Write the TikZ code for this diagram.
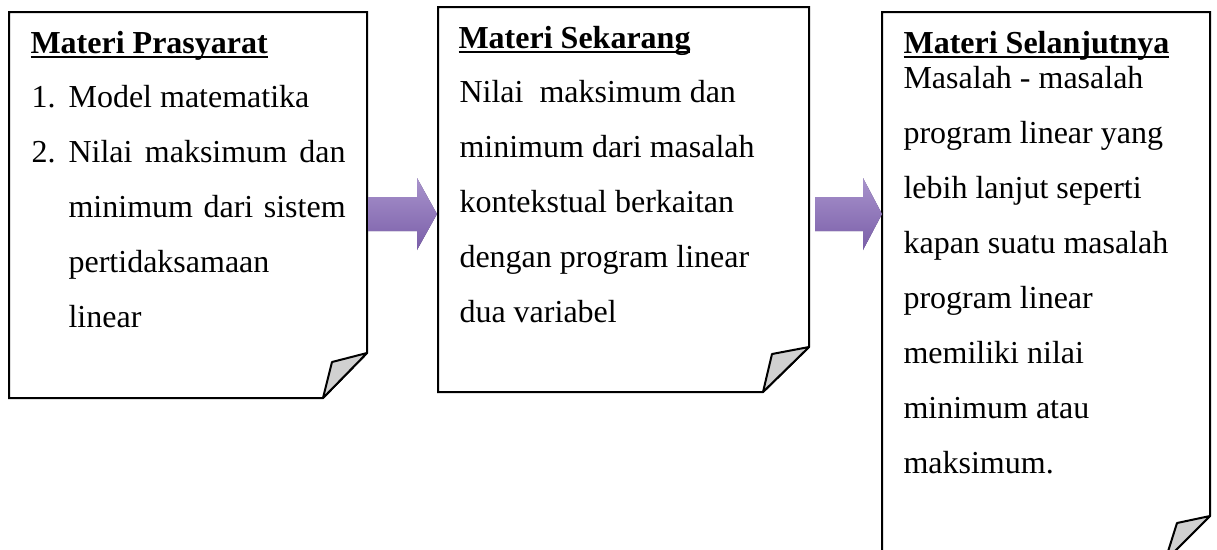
\documentclass[tikz,border=0pt]{standalone}
\usepackage{fontspec}
\setmainfont{Liberation Serif}
\usetikzlibrary{calc}
\definecolor{arrowtop}{HTML}{A893CC}
\definecolor{arrowbot}{HTML}{7A5EA8}
\definecolor{arrowdark}{HTML}{4C3A70}
\definecolor{flapgray}{HTML}{D0D0D0}
\newcommand{\ttlline}[1]{\setbox0\hbox{#1}\rlap{\rule[-1.9pt]{\wd0}{0.75pt}}\box0}
\newcommand{\numbox}[1]{\makebox[13.9pt][l]{#1}}
\newcommand{\jline}[1]{\makebox[103.9pt][s]{#1}}
\tikzstyle{page}=[draw=black,line width=0.75pt,fill=white]
\tikzstyle{flap}=[draw=black,line width=0.75pt,fill=flapgray,line join=round]
\tikzstyle{title}=[inner sep=0pt,anchor=base west,font=\fontsize{12}{14}\selectfont\bfseries]
\tikzstyle{body}=[inner sep=0pt,anchor=base west,align=left,font=\fontsize{12}{20.625}\selectfont]
\tikzstyle{arrowbody}=[top color=arrowtop,bottom color=arrowbot]
\tikzstyle{arrowshadow}=[fill=arrowdark,shift={(2,3)}]

\begin{document}
\begin{tikzpicture}[x=0.375pt,y=-0.375pt]
	\useasboundingbox (0,0) rectangle (1217,549);
	\clip (0,0) rectangle (1217,549);
	% pages
	\coordinate (p1nw) at (9,12);
	\coordinate (p1se) at (367,398);
	\coordinate (p2nw) at (438,7);
	\coordinate (p2se) at (809,392);
	\coordinate (p3nw) at (882,12);
	\coordinate (p3se) at (1210,561);
	\draw[style=page] (p1nw) -| ($(p1se)+(0,-45)$) -- ($(p1se)+(-44,0)$) -| cycle;
	\draw[style=flap] ($(p1se)+(0,-45)$) -- ($(p1se)+(-35,-36)$) -- ($(p1se)+(-44,0)$) -- cycle;
	\draw[style=page] (p2nw) -| ($(p2se)+(0,-45)$) -- ($(p2se)+(-46,0)$) -| cycle;
	\draw[style=flap] ($(p2se)+(0,-45)$) -- ($(p2se)+(-37,-38)$) -- ($(p2se)+(-46,0)$) -- cycle;
	\draw[style=page] (p3nw) -| ($(p3se)+(0,-45)$) -- ($(p3se)+(-45,0)$) -| cycle;
	\draw[style=flap] ($(p3se)+(0,-45)$) -- ($(p3se)+(-33,-38)$) -- ($(p3se)+(-45,0)$) -- cycle;
	% arrows
	\coordinate (a1) at (368,214);
	\coordinate (b1) at (437,214);
	\coordinate (a2) at (815,214);
	\coordinate (b2) at (882,214);
	\fill[style=arrowshadow] ($(a1)+(0,-17)$) -- ($(b1)+(-20,-17)$) -- ($(b1)+(-20,-36)$) -- (b1) -- ($(b1)+(-20,36)$) -- ($(b1)+(-20,17)$) -- ($(a1)+(0,17)$) -- cycle;
	\shade[style=arrowbody] ($(a1)+(0,-17)$) -- ($(b1)+(-20,-17)$) -- ($(b1)+(-20,-36)$) -- (b1) -- ($(b1)+(-20,36)$) -- ($(b1)+(-20,17)$) -- ($(a1)+(0,17)$) -- cycle;
	\fill[style=arrowshadow] ($(a2)+(0,-17)$) -- ($(b2)+(-19,-17)$) -- ($(b2)+(-19,-36)$) -- (b2) -- ($(b2)+(-19,36)$) -- ($(b2)+(-19,17)$) -- ($(a2)+(0,17)$) -- cycle;
	\shade[style=arrowbody] ($(a2)+(0,-17)$) -- ($(b2)+(-19,-17)$) -- ($(b2)+(-19,-36)$) -- (b2) -- ($(b2)+(-19,36)$) -- ($(b2)+(-19,17)$) -- ($(a2)+(0,17)$) -- cycle;
	% texts (body nodes sit on their last baseline)
	\node[style=title] (t1) at (30,53) {\ttlline{Materi Prasyarat}};
	\node[style=body] (m1) at (31,327) {\numbox{1.}Model matematika\\
		\numbox{2.}\jline{Nilai maksimum dan}\\
		\hspace*{13.9pt}\jline{minimum dari sistem}\\
		\hspace*{13.9pt}pertidaksamaan\\
		\hspace*{13.9pt}linear};
	\node[style=title] (t2) at (458,48) {\ttlline{Materi Sekarang}};
	\node[style=body] (m2) at (459,322) {Nilai\ \ maksimum dan\\
		minimum dari masalah\\
		kontekstual berkaitan\\
		dengan program linear\\
		dua variabel};
	\node[style=title] (t3) at (903,53) {\ttlline{Materi Selanjutnya}};
	\node[style=body] (m3) at (903,473) {Masalah - masalah\\
		program linear yang\\
		lebih lanjut seperti\\
		kapan suatu masalah\\
		program linear\\
		memiliki nilai\\
		minimum atau\\
		maksimum.};
\end{tikzpicture}
\end{document}
